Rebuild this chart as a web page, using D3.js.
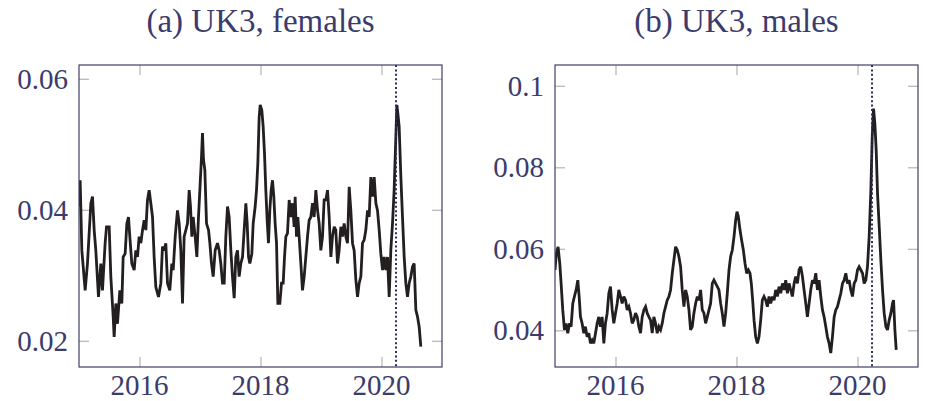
<!DOCTYPE html>
<html>
<head>
<meta charset="utf-8">
<script src="https://cdn.jsdelivr.net/npm/d3@7"></script>
<style>
  html, body { margin: 0; padding: 0; background: #fff; }
  svg { display: block; }
</style>
</head>
<body>
<svg id="chart" width="925" height="401"></svg>
<script>
// ---------------- DATA ----------------
const titles = ["(a) UK3, females", "(b) UK3, males"];
const xTicks = [2016, 2018, 2020];
const xDomain = [2015, 2021];
const eventDate = 2020.24;

const femDates = [2015.0,2015.019,2015.047,2015.102,2015.14,2015.196,2015.223,2015.251,2015.278,2015.322,2015.361,2015.388,2015.432,2015.455,2015.499,2015.526,2015.565,2015.581,2015.609,2015.636,2015.675,2015.708,2015.73,2015.763,2015.791,2015.818,2015.84,2015.873,2015.912,2015.939,2015.967,2015.994,2016.022,2016.05,2016.077,2016.105,2016.132,2016.16,2016.187,2016.215,2016.242,2016.27,2016.314,2016.353,2016.38,2016.408,2016.435,2016.463,2016.501,2016.534,2016.557,2016.59,2016.628,2016.656,2016.683,2016.711,2016.738,2016.766,2016.793,2016.821,2016.843,2016.865,2016.887,2016.92,2016.948,2016.975,2017.003,2017.025,2017.041,2017.058,2017.08,2017.108,2017.141,2017.163,2017.19,2017.218,2017.251,2017.289,2017.317,2017.344,2017.372,2017.4,2017.427,2017.455,2017.482,2017.51,2017.537,2017.565,2017.592,2017.62,2017.647,2017.675,2017.703,2017.73,2017.758,2017.78,2017.802,2017.824,2017.857,2017.879,2017.912,2017.934,2017.956,2017.978,2017.995,2018.022,2018.044,2018.066,2018.088,2018.11,2018.132,2018.154,2018.176,2018.198,2018.22,2018.242,2018.265,2018.287,2018.32,2018.347,2018.375,2018.397,2018.419,2018.446,2018.474,2018.501,2018.529,2018.556,2018.573,2018.595,2018.617,2018.639,2018.667,2018.694,2018.722,2018.749,2018.777,2018.804,2018.832,2018.86,2018.887,2018.915,2018.942,2018.97,2018.997,2019.025,2019.052,2019.08,2019.108,2019.135,2019.163,2019.19,2019.218,2019.245,2019.273,2019.3,2019.328,2019.355,2019.383,2019.411,2019.438,2019.466,2019.493,2019.521,2019.548,2019.576,2019.604,2019.631,2019.659,2019.686,2019.714,2019.741,2019.769,2019.796,2019.824,2019.851,2019.879,2019.907,2019.934,2019.962,2019.989,2020.017,2020.044,2020.072,2020.099,2020.127,2020.154,2020.182,2020.209,2020.237,2020.254,2020.276,2020.292,2020.32,2020.347,2020.375,2020.402,2020.43,2020.457,2020.485,2020.513,2020.54,2020.568,2020.595,2020.623,2020.65];
const femRates = [0.0405,0.0445,0.0338,0.0277,0.0318,0.041,0.042,0.0369,0.0338,0.0267,0.0318,0.0277,0.0349,0.0374,0.0374,0.0298,0.0237,0.0206,0.0257,0.0226,0.0277,0.0257,0.0328,0.0333,0.0379,0.0389,0.0359,0.0318,0.0308,0.0338,0.0328,0.0359,0.0349,0.0369,0.0384,0.0369,0.0415,0.043,0.041,0.0389,0.0328,0.0282,0.0267,0.0288,0.0344,0.0338,0.0349,0.0288,0.0277,0.0318,0.0308,0.0359,0.0399,0.0379,0.0338,0.0257,0.0359,0.0369,0.0379,0.043,0.0405,0.0359,0.0389,0.0359,0.0328,0.0389,0.044,0.0481,0.0517,0.0476,0.0461,0.0379,0.0369,0.0349,0.0318,0.0298,0.0338,0.0349,0.0338,0.0318,0.0288,0.0288,0.0359,0.0405,0.0389,0.0338,0.0298,0.0265,0.0328,0.0338,0.0298,0.0318,0.0328,0.0369,0.041,0.0379,0.0328,0.0318,0.0333,0.0379,0.0405,0.043,0.0471,0.0542,0.056,0.0552,0.0527,0.0486,0.043,0.0384,0.0349,0.0399,0.043,0.0445,0.042,0.0379,0.0349,0.0257,0.0257,0.0288,0.0288,0.0328,0.0359,0.0364,0.0415,0.0389,0.041,0.0374,0.042,0.0359,0.0389,0.0359,0.0318,0.0277,0.0298,0.0328,0.0359,0.0384,0.0389,0.041,0.0389,0.043,0.04,0.0379,0.0338,0.0359,0.0415,0.0415,0.043,0.0389,0.0328,0.0359,0.0374,0.0369,0.0318,0.0338,0.0374,0.0359,0.0379,0.0359,0.0349,0.0435,0.0399,0.0349,0.0338,0.0293,0.0267,0.0288,0.0298,0.0349,0.0354,0.0369,0.0399,0.0389,0.045,0.042,0.045,0.041,0.0399,0.0369,0.0333,0.0308,0.0328,0.0308,0.0328,0.0267,0.0338,0.0379,0.043,0.0511,0.056,0.0542,0.0527,0.045,0.0389,0.0328,0.0288,0.0267,0.0288,0.0298,0.0313,0.0318,0.0247,0.0237,0.0221,0.0191];

const maleDates = [2015.0,2015.023,2015.051,2015.079,2015.101,2015.128,2015.156,2015.183,2015.211,2015.239,2015.266,2015.294,2015.321,2015.349,2015.377,2015.399,2015.421,2015.448,2015.476,2015.503,2015.531,2015.559,2015.586,2015.614,2015.641,2015.669,2015.697,2015.724,2015.752,2015.779,2015.807,2015.834,2015.862,2015.89,2015.917,2015.945,2015.972,2016.0,2016.028,2016.055,2016.083,2016.11,2016.138,2016.166,2016.193,2016.221,2016.248,2016.276,2016.303,2016.331,2016.359,2016.386,2016.414,2016.441,2016.469,2016.497,2016.524,2016.552,2016.579,2016.607,2016.634,2016.662,2016.69,2016.717,2016.745,2016.772,2016.8,2016.828,2016.855,2016.883,2016.91,2016.938,2016.965,2016.993,2017.021,2017.048,2017.076,2017.103,2017.131,2017.159,2017.186,2017.214,2017.241,2017.269,2017.296,2017.324,2017.352,2017.379,2017.407,2017.434,2017.462,2017.49,2017.517,2017.545,2017.572,2017.6,2017.627,2017.655,2017.683,2017.71,2017.738,2017.765,2017.793,2017.821,2017.848,2017.876,2017.903,2017.931,2017.959,2017.986,2018.008,2018.03,2018.058,2018.085,2018.113,2018.141,2018.168,2018.196,2018.223,2018.245,2018.267,2018.29,2018.317,2018.345,2018.372,2018.4,2018.427,2018.455,2018.483,2018.51,2018.538,2018.565,2018.593,2018.621,2018.648,2018.676,2018.703,2018.731,2018.759,2018.786,2018.814,2018.841,2018.869,2018.896,2018.924,2018.952,2018.979,2019.007,2019.034,2019.062,2019.09,2019.117,2019.145,2019.172,2019.2,2019.227,2019.255,2019.283,2019.31,2019.338,2019.365,2019.393,2019.421,2019.448,2019.476,2019.503,2019.531,2019.558,2019.586,2019.614,2019.641,2019.669,2019.696,2019.724,2019.752,2019.779,2019.807,2019.834,2019.862,2019.889,2019.917,2019.945,2019.972,2020.0,2020.027,2020.055,2020.083,2020.11,2020.138,2020.165,2020.193,2020.221,2020.243,2020.265,2020.287,2020.309,2020.331,2020.359,2020.386,2020.414,2020.441,2020.469,2020.496,2020.524,2020.552,2020.579,2020.596,2020.618,2020.64];
const maleRates = [0.0548,0.0589,0.0605,0.0564,0.0515,0.045,0.0401,0.0417,0.0393,0.0417,0.0409,0.0466,0.0483,0.0499,0.0523,0.0483,0.0433,0.0417,0.0393,0.0409,0.0384,0.0393,0.0368,0.0376,0.0368,0.0393,0.0417,0.0433,0.0409,0.0433,0.0368,0.0417,0.0442,0.0491,0.0507,0.045,0.0417,0.0442,0.0466,0.0499,0.0483,0.0466,0.0483,0.0474,0.045,0.0458,0.0442,0.0417,0.0425,0.0442,0.0433,0.0409,0.0393,0.0433,0.045,0.0458,0.0442,0.0433,0.0425,0.0393,0.0433,0.0417,0.0393,0.0409,0.0401,0.0417,0.0442,0.0458,0.0474,0.0483,0.0499,0.054,0.0572,0.0605,0.0597,0.0581,0.0556,0.0499,0.0458,0.0499,0.0483,0.045,0.0401,0.0409,0.0442,0.0466,0.0483,0.0474,0.0499,0.045,0.0442,0.0417,0.0433,0.045,0.0466,0.0515,0.0523,0.0515,0.0507,0.0499,0.0466,0.0442,0.0409,0.0442,0.0491,0.0548,0.0581,0.0597,0.063,0.067,0.0691,0.0679,0.0646,0.0621,0.0597,0.0564,0.054,0.0548,0.054,0.0515,0.0474,0.0425,0.0384,0.0368,0.0384,0.0425,0.0474,0.0483,0.0474,0.0458,0.0483,0.0466,0.0483,0.0474,0.0499,0.0483,0.0507,0.0491,0.0515,0.0499,0.0523,0.0491,0.0515,0.0499,0.0483,0.0515,0.0532,0.0515,0.0548,0.0556,0.0532,0.0499,0.0466,0.0433,0.0466,0.0499,0.0523,0.0515,0.054,0.0499,0.0523,0.0483,0.045,0.0433,0.0409,0.0384,0.0368,0.0344,0.0384,0.0433,0.045,0.0458,0.0474,0.0491,0.0515,0.0523,0.054,0.0515,0.0523,0.0499,0.0483,0.0515,0.0523,0.0548,0.0556,0.0548,0.054,0.0515,0.0523,0.0556,0.063,0.0744,0.0875,0.0944,0.0907,0.0842,0.0736,0.0654,0.0572,0.0499,0.0442,0.0409,0.0401,0.0425,0.0442,0.0466,0.0474,0.0401,0.0352];

const femTicks = [0.02, 0.04, 0.06];
const maleTicks = [0.04, 0.06, 0.08, 0.1];
const femDomain = [0.0160, 0.0621];
const maleDomain = [0.0310, 0.1051];

// ---------------- DRAW ----------------
const svg = d3.select("#chart");
const textColor = "#3b3b6c";
const frameColor = "#3f3f68";
const tickColor = "#b4b4b4";
const fontFamily = "'Liberation Serif', 'Times New Roman', serif";
const plotTop = 65, plotBottom = 367, tickLen = 10;

const panels = [
  { title: titles[0], left: 79, right: 442, dates: femDates, rates: femRates, yTicks: femTicks, yDomain: femDomain, fmt: d => d3.format(".2f")(d) },
  { title: titles[1], left: 555, right: 918, dates: maleDates, rates: maleRates, yTicks: maleTicks, yDomain: maleDomain, fmt: d => d === 0.1 ? "0.1" : d3.format(".2f")(d) }
];

panels.forEach(p => {
  const x = d3.scaleLinear().domain(xDomain).range([p.left, p.right]);
  const y = d3.scaleLinear().domain(p.yDomain).range([plotBottom, plotTop]);
  const g = svg.append("g");

  // title
  g.append("text")
    .attr("x", (p.left + p.right) / 2).attr("y", 32)
    .attr("text-anchor", "middle")
    .attr("font-family", fontFamily).attr("font-size", 33)
    .attr("fill", textColor)
    .text(p.title);

  // inner ticks on all four sides via d3 axes
  const axB = d3.axisBottom(x).tickValues(xTicks).tickSize(-tickLen).tickFormat("");
  const axT = d3.axisTop(x).tickValues(xTicks).tickSize(-tickLen).tickFormat("");
  const axL = d3.axisLeft(y).tickValues(p.yTicks).tickSize(-tickLen).tickFormat("");
  const axR = d3.axisRight(y).tickValues(p.yTicks).tickSize(-tickLen).tickFormat("");
  [[axB, `translate(0,${plotBottom})`], [axT, `translate(0,${plotTop})`], [axL, `translate(${p.left},0)`], [axR, `translate(${p.right},0)`]]
    .forEach(([ax, tr]) => {
      const a = g.append("g").attr("transform", tr).call(ax);
      a.select(".domain").remove();
      a.selectAll("line").attr("stroke", tickColor).attr("stroke-width", 1.2);
    });

  // tick labels
  g.selectAll(".xl").data(xTicks).enter().append("text")
    .attr("x", d => x(d)).attr("y", 395)
    .attr("text-anchor", "middle")
    .attr("font-family", fontFamily).attr("font-size", 29)
    .attr("fill", textColor)
    .text(d => d);
  g.selectAll(".yl").data(p.yTicks).enter().append("text")
    .attr("x", p.left - 11).attr("y", d => y(d))
    .attr("dy", "0.34em")
    .attr("text-anchor", "end")
    .attr("font-family", fontFamily).attr("font-size", 29)
    .attr("fill", textColor)
    .text(p.fmt);

  // clip
  const cid = "clip" + p.left;
  svg.append("clipPath").attr("id", cid).append("rect")
    .attr("x", p.left).attr("y", plotTop).attr("width", p.right - p.left).attr("height", plotBottom - plotTop);

  // data line
  const pts = p.dates.map((d, i) => [d, p.rates[i]]);
  const line = d3.line().x(d => x(d[0])).y(d => y(d[1]));
  g.append("path").datum(pts)
    .attr("clip-path", `url(#${cid})`)
    .attr("d", line)
    .attr("fill", "none")
    .attr("stroke", "#231f20")
    .attr("stroke-width", 2.8)
    .attr("stroke-linejoin", "miter")
    .attr("stroke-miterlimit", 3);

  // dotted event line
  g.append("line")
    .attr("x1", x(eventDate)).attr("x2", x(eventDate))
    .attr("y1", plotTop).attr("y2", plotBottom)
    .attr("stroke", "#2b2b5e").attr("stroke-width", 2)
    .attr("stroke-dasharray", "2,2.4");

  // frame
  g.append("rect")
    .attr("x", p.left).attr("y", plotTop)
    .attr("width", p.right - p.left).attr("height", plotBottom - plotTop)
    .attr("fill", "none").attr("stroke", frameColor).attr("stroke-width", 1.2);
});
</script>
</body>
</html>
